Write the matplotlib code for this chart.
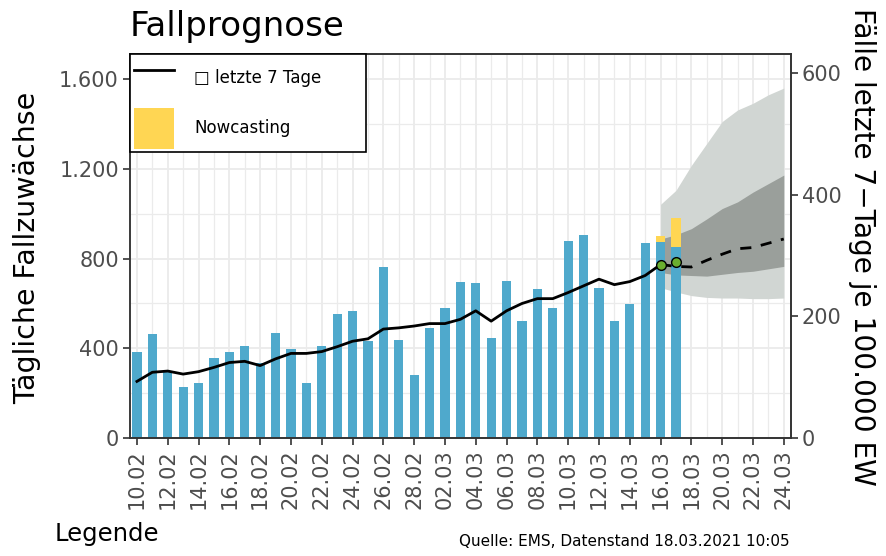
"""
fallprognose.py
Daily case increases (bars) with nowcasting and a 7-day incidence forecast.
"""

import pandas as pd
import matplotlib
matplotlib.use("Agg")
import matplotlib.pyplot as plt
import matplotlib.dates as mdates
from matplotlib.lines import Line2D
from matplotlib.patches import Patch
from matplotlib.ticker import FuncFormatter

# daily reported cases, 10.02. - 17.03.
case_dates = pd.date_range("2021-02-10", "2021-03-17")
cases = [385, 464, 297, 226, 247, 357, 385, 412, 334, 468,
         399, 244, 412, 552, 567, 434, 762, 439, 281,
         490, 582, 696, 690, 446, 700, 523, 666, 578, 879,
         905, 669, 523, 598, 868, 876, 851]

# nowcasting add-on for the last two days
nowcast_dates = pd.to_datetime(["2021-03-16", "2021-03-17"])
nowcast = [23, 130]

# 7-day incidence per 100.000, 10.02. - 16.03.
inc_dates = pd.date_range("2021-02-10", "2021-03-16")
incidence = [93, 108, 110, 105, 109, 116, 124, 126, 119, 130,
             139, 139, 142, 150, 159, 163, 179, 181, 184,
             188, 188, 195, 209, 192, 209, 221, 229, 229, 239,
             250, 261, 252, 257, 267, 285]

# nowcast points
point_dates = pd.to_datetime(["2021-03-16", "2021-03-17"])
point_values = [285, 290]

# forecast 16.03. - 24.03.
fc_dates = pd.date_range("2021-03-16", "2021-03-24")
fc_median = [285, 282, 281, 292, 302, 311, 313, 320, 327]
fc_outer_lo = [247, 240, 234, 231, 230, 230, 229, 229, 230]
fc_outer_hi = [384, 407, 448, 484, 520, 539, 550, 564, 575]
fc_inner_lo = [272, 268, 267, 266, 269, 272, 274, 278, 282]
fc_inner_hi = [327, 334, 344, 360, 377, 388, 404, 418, 432]

left_ticks = [0, 400, 800, 1200, 1600]
right_ticks = [0, 200, 400, 600]
tick_dates = pd.date_range("2021-02-10", "2021-03-24", freq="2D")
grid_dates = pd.date_range("2021-02-10", "2021-03-24", freq="D")

BLUE = "#4FA9CC"
YELLOW = "#FFD653"
BAND_LIGHT = "#D1D6D3"
BAND_DARK = "#9A9F9B"
GREEN = "#6AAF2F"
TICK_COL = "#4D4D4D"
SPINE_COL = "#333333"

plt.rcParams["font.family"] = ["DejaVu Sans"]

fig = plt.figure(figsize=(8.87, 5.56), dpi=100)
ax = fig.add_axes([130 / 887, 118 / 556, 660.7 / 887, 384 / 556])
ax2 = ax.twinx()

day = pd.Timedelta(days=1)
ax.set_xlim(tick_dates[0] - 0.45 * day, tick_dates[-1] + 0.45 * day)
ax.set_ylim(0, 1713)
ax2.set_ylim(0, 631)

# grid
ax.set_axisbelow(True)
ax.set_yticks([200, 600, 1000, 1400], minor=True)
ax.set_xticks(grid_dates, minor=True)
ax.grid(which="major", color="#EBEBEB", linewidth=1.3)
ax.grid(which="minor", color="#EBEBEB", linewidth=0.9)
ax.tick_params(which="minor", length=0)

# forecast bands (right axis units) behind bars
ax.fill_between(fc_dates, fc_outer_lo, fc_outer_hi, color=BAND_LIGHT,
                linewidth=0, zorder=1, transform=ax2.transData)
ax.fill_between(fc_dates, fc_inner_lo, fc_inner_hi, color=BAND_DARK,
                linewidth=0, zorder=1.1, transform=ax2.transData)

# bars
ax.bar(case_dates, cases, width=0.6, color=BLUE, zorder=2)
base = [cases[list(case_dates).index(d)] for d in nowcast_dates]
ax.bar(nowcast_dates, nowcast, bottom=base, width=0.6, color=YELLOW, zorder=2)

# incidence line + forecast
ax2.plot(inc_dates, incidence, color="black", linewidth=2, zorder=3)
ax2.plot(fc_dates, fc_median, color="black", linewidth=2,
         linestyle=(0, (4, 3.5)), zorder=3)
ax2.plot(point_dates, point_values, linestyle="none", marker="o",
         markersize=7, markerfacecolor=GREEN, markeredgecolor="black",
         markeredgewidth=1, zorder=4)

# axes styling
ax.set_yticks(left_ticks)
ax.yaxis.set_major_formatter(FuncFormatter(lambda v, p: f"{v:,.0f}".replace(",", ".")))
ax.set_xticks(tick_dates)
ax.xaxis.set_major_formatter(mdates.DateFormatter("%d.%m"))
ax2.set_yticks(right_ticks)

for a in (ax, ax2):
    a.tick_params(which="major", length=5, width=1.2, color=SPINE_COL,
                  labelcolor=TICK_COL, labelsize=15, pad=3)
    for s in a.spines.values():
        s.set_color(SPINE_COL)
        s.set_linewidth(1.2)
ax.spines["left"].set_color("#666666")
plt.setp(ax.get_xticklabels(), rotation=90, ha="center", va="top")

# legend
handles = [Line2D([], [], color="black", linewidth=2),
           Patch(facecolor=YELLOW, edgecolor="none")]
labels = ["\u25a1 letzte 7 Tage", "Nowcasting"]
leg = ax2.legend(handles, labels, loc="upper left",
                 bbox_to_anchor=(0, 1, 0.357, 0), mode="expand",
                 fontsize=12, handlelength=2.45, handleheight=3.4,
                 handletextpad=1.2, labelspacing=0.55, borderpad=0.22,
                 borderaxespad=0, fancybox=False, framealpha=1,
                 edgecolor="black")
leg.get_frame().set_linewidth(1.2)
leg.set_zorder(10)

# texts
fig.text(130 / 887, 1 - 36 / 556, "Fallprognose", fontsize=24.5,
         ha="left", va="baseline")
fig.text(27 / 887, 1 - 248 / 556, "Tägliche Fallzuwächse", fontsize=20.5,
         rotation=90, ha="center", va="center")
fig.text(862 / 887, 1 - 247 / 556, "Fälle letzte 7\u2212Tage je 100.000 EW",
         fontsize=20.2, rotation=-90, ha="center", va="center")
fig.text(55 / 887, 1 - 541 / 556, "Legende", fontsize=17.5,
         ha="left", va="baseline")
fig.text(790 / 887, 1 - 546 / 556, "Quelle: EMS, Datenstand 18.03.2021 10:05",
         fontsize=11, ha="right", va="baseline")

fig.savefig("out.png", dpi=100)
